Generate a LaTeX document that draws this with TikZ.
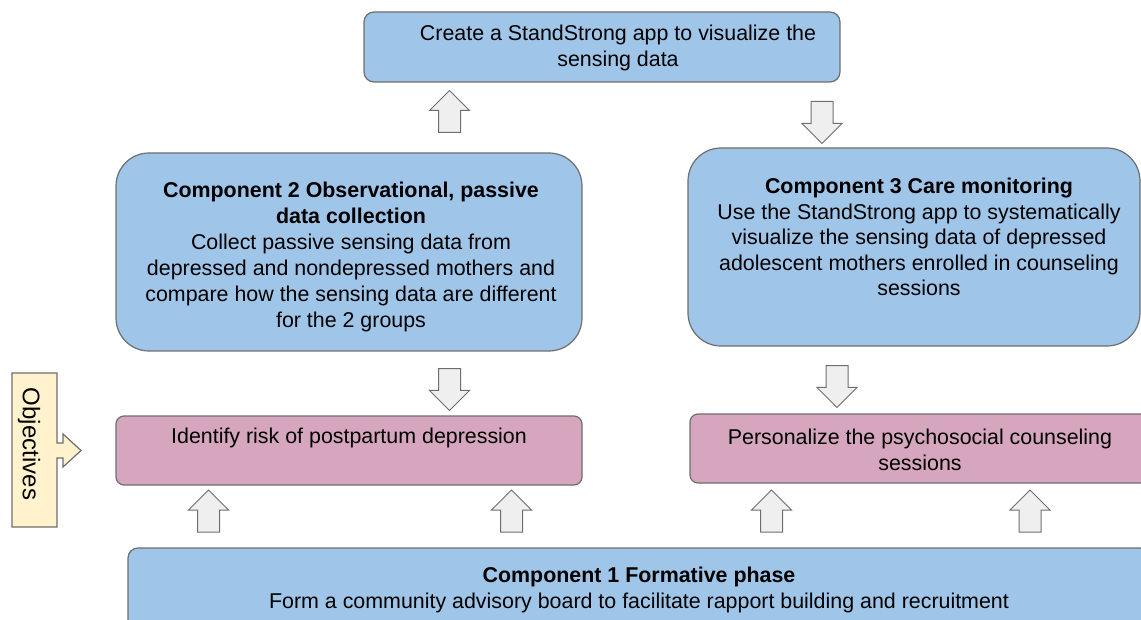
\documentclass[tikz,border=0pt]{standalone}
\usepackage{fontspec}
\setmainfont{Liberation Sans}
\usetikzlibrary{shapes.arrows}
\definecolor{boxblue}{HTML}{9FC5E8}
\definecolor{boxpink}{HTML}{D5A6BD}
\definecolor{objyellow}{HTML}{FFF2CC}
\definecolor{arrowgrey}{HTML}{EFEFEF}
\definecolor{edgegrey}{HTML}{6E6E6E}
\begin{document}
\begin{tikzpicture}[x=1pt,y=-1pt,
  font=\fontsize{21.4}{25.5}\selectfont,
  box/.style={draw=edgegrey,line width=1.2pt,inner sep=0pt},
  bluebox/.style={box,fill=boxblue},
  pinkbox/.style={box,fill=boxpink,rounded corners=8pt},
  boxtext/.style={align=center,inner sep=0pt},
  blockup/.style={single arrow,draw=edgegrey,fill=arrowgrey,line width=1pt,
    inner sep=10.5pt,single arrow head extend=9pt,minimum height=42pt,
    shape border rotate=90},
  blockdown/.style={blockup,shape border rotate=270}]
\useasboundingbox (0,0) rectangle (1141,620);
\clip (0,0) rectangle (1141,620);

\node[bluebox,rounded corners=10pt,minimum width=476pt,minimum height=70pt] (app) at (602,47) {};
\node[boxtext] (apptext) at (618,48) {Create a StandStrong app to visualize the\\sensing data};

\node[bluebox,rounded corners=33pt,minimum width=466pt,minimum height=198pt] (collect) at (349,252) {};
\node[boxtext,font=\fontsize{21.4}{26}\selectfont] (collecttext) at (351,257) {{\bfseries Component 2 Observational, passive}\\{\bfseries data collection}\\Collect passive sensing data from\\depressed and nondepressed mothers and\\compare how the sensing data are different\\for the 2 groups};

\node[bluebox,rounded corners=33pt,minimum width=452pt,minimum height=198pt] (care) at (914,247) {};
\node[boxtext] (caretext) at (919,237) {{\bfseries Component 3 Care monitoring}\\Use the StandStrong app to systematically\\visualize the sensing data of depressed\\adolescent mothers enrolled in counseling\\sessions};

\node[pinkbox,minimum width=466pt,minimum height=69pt] (risk) at (349,450.5) {};
\node[boxtext] (risktext) at (349,438) {Identify risk of postpartum depression};

\node[pinkbox,minimum width=460pt,minimum height=69pt] (personal) at (920,448.5) {};
\node[boxtext] (personaltext) at (920,450) {Personalize the psychosocial counseling\\sessions};

\node[bluebox,rounded corners=10pt,minimum width=1022pt,minimum height=87pt] (formative) at (639,591.5) {};
\node[boxtext] (formativetext) at (639,590) {{\bfseries Component 1 Formative phase}\\Form a community advisory board to facilitate rapport building and recruitment};

\draw[draw=edgegrey,fill=objyellow,line width=1.2pt] (12,373) -- (57,373) -- (57,443) -- (63,443) -- (63,434)
  -- (81,450.5) -- (63,467) -- (63,458) -- (57,458) -- (57,527) -- (12,527) -- cycle;
\node[rotate=-90,inner sep=0pt,font=\fontsize{24}{28}\selectfont] (objectives) at (29,444) {Objectives};

\node[blockup] (upapp) at (449.5,117) {};
\node[blockdown] (downcare) at (822,117) {};
\node[blockdown] (downrisk) at (449.5,384) {};
\node[blockdown] (downpersonal) at (837,381) {};
\foreach \ax/\an in {208.5/a,511.5/b,771.5/c,1030/d}
  \node[blockup] (upform\an) at (\ax,516.5) {};
\end{tikzpicture}
\end{document}
